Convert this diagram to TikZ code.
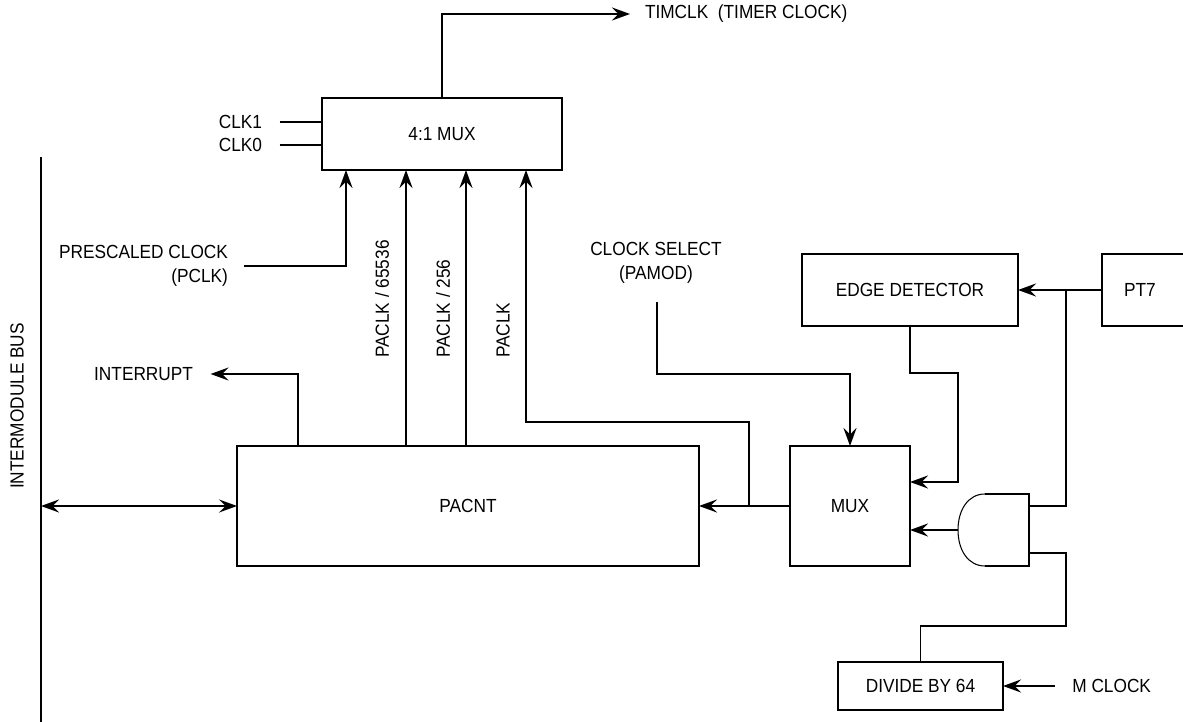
\documentclass[tikz,border=0pt]{standalone}
\usepackage{fontspec}
\setmainfont[FakeStretch=0.91]{Liberation Sans}
\usetikzlibrary{arrows.meta,calc}
\begin{document}
\begin{tikzpicture}[x=0.02cm,y=-0.02cm,
  line width=1.1pt,
  font=\fontsize{10.8}{13.5}\selectfont,
  box/.style={draw,line width=1.1pt,inner sep=0pt,outer sep=0pt,align=center},
  lbl/.style={inner sep=0pt,outer sep=0pt},
  arr/.style={-{Stealth[length=3.6mm,width=2.6mm,inset=1.3mm]}},
  darr/.style={{Stealth[length=3.6mm,width=2.6mm,inset=1.3mm]}-{Stealth[length=3.6mm,width=2.6mm,inset=1.3mm]}}]
\useasboundingbox (0,0) rectangle (1183,722);
\clip (0,0) rectangle (1183,722);

% boxes
\node[box,minimum width=4.8cm,minimum height=1.44cm] (mux4) at (442,134) {4:1 MUX};
\node[box,minimum width=9.24cm,minimum height=2.4cm] (pacnt) at (468,506) {PACNT};
\node[box,minimum width=2.4cm,minimum height=2.4cm] (mux) at (850,506) {MUX};
\node[box,minimum width=4.32cm,minimum height=1.44cm] (edge) at (910,290) {EDGE DETECTOR};
\node[box,minimum width=2cm,minimum height=1.44cm] (pt7) at (1152,290) {};
\node[lbl] (pt7t) at (1140,290) {PT7};
\node[box,minimum width=3.3cm,minimum height=0.96cm] (div) at (920.5,686) {DIVIDE BY 64};

% AND gate
\coordinate (andout) at (958,530);
\coordinate (andin1) at (1029,506);
\coordinate (andin2) at (1029,553);
\draw (985,494) -- (1029,494) -- (1029,566) -- (985,566);
\draw[line width=0.6pt] (985,494) .. controls (968,494) and (958,510) .. (andout)
  .. controls (958,550) and (968,566) .. (985,566);

% bus
\coordinate (bustop) at (41,157);
\coordinate (busbot) at (41,725);
\draw[line width=1.7pt] (bustop) -- (busbot);
\node[lbl,rotate=90] (buslbl) at (17,406) {INTERMODULE BUS};
\coordinate (busj) at (41,506);
\draw[darr] (busj) -- (pacnt.west);

% labels
\node[lbl,anchor=west] (timclk) at (645,14) {TIMCLK\ \ (TIMER CLOCK)};
\coordinate (timend) at (630,14);
\node[lbl,anchor=east] (clk1) at (262,122) {CLK1};
\node[lbl,anchor=east] (clk0) at (262,145) {CLK0};
\node[lbl,anchor=east,align=right] (pclk) at (228,266) {PRESCALED CLOCK\\(PCLK)};
\node[lbl,anchor=east] (intr) at (193,374) {INTERRUPT};
\node[lbl,align=center] (csel) at (656,263) {CLOCK SELECT\\(PAMOD)};
\node[lbl,anchor=east] (mclk) at (1151,686) {M CLOCK};
\node[lbl,rotate=90,anchor=west] (l1) at (382,358) {PACLK / 65536};
\node[lbl,rotate=90,anchor=west] (l2) at (443,358) {PACLK / 256};
\node[lbl,rotate=90,anchor=west] (l3) at (503,358) {PACLK};

% mux4 inputs
\coordinate (in1) at (346,170);
\coordinate (in2) at (406,170);
\coordinate (in3) at (466,170);
\coordinate (in4) at (526,170);

\draw[arr] (mux4.north) |- (timend);
\draw ([xshift=10]clk1.east) -- (mux4.west |- clk1.east);
\draw ([xshift=10]clk0.east) -- (mux4.west |- clk0.east);
\draw[arr] ([xshift=9]pclk.east) -| (in1);
\draw[arr] (in2 |- pacnt.north) -- (in2);
\draw[arr] (in3 |- pacnt.north) -- (in3);
\coordinate (j1) at (749,506);
\draw[arr] (j1) |- (526,422) -- (in4);
\draw[arr] (mux.west) -- (pacnt.east);
\draw[arr] (298,446) |- ([xshift=10]intr.east);

% clock select
\coordinate (cs0) at (657,302);
\draw[arr] (cs0) |- (850,374) -- (mux.north);

% edge detector
\coordinate (ed1) at (910,482);
\draw[arr] (edge.south) -- (910,373) -| (958,482) -- (ed1);

% pt7
\coordinate (pj) at (1066,290);
\draw[arr] (pt7.west) -- (edge.east);
\draw (pj) |- (andin1);

% and gate connections
\draw[arr] (andout) -- (mux.east |- andout);
\draw (andin2) -| (1066,626) -| (div.north);

% m clock
\draw[arr] ([xshift=-10]mclk.west) -- (div.east);
\end{tikzpicture}
\end{document}
